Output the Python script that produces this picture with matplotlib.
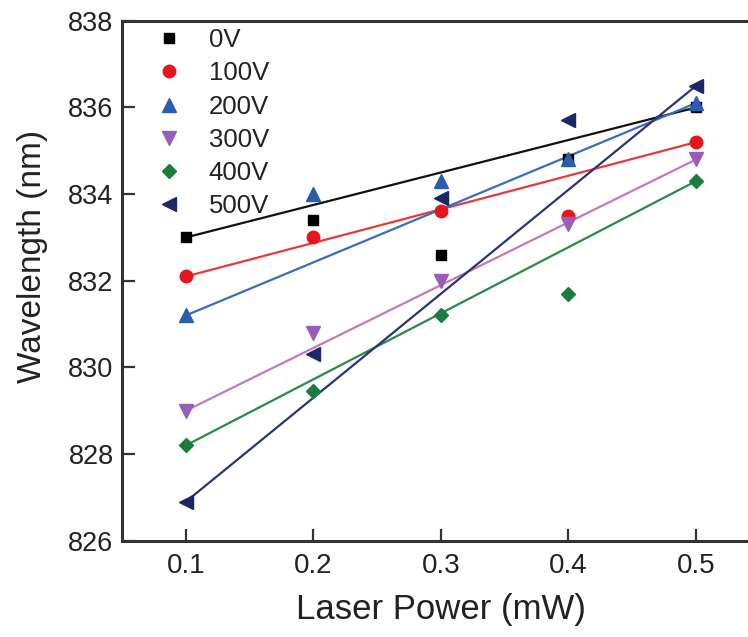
import matplotlib.pyplot as plt
import numpy as np

# data
power = np.array([0.1, 0.2, 0.3, 0.4, 0.5])
labels = ["0V", "100V", "200V", "300V", "400V", "500V"]
wl_0v = np.array([833.0, 833.4, 832.6, 834.8, 836.0])
wl_100v = np.array([832.1, 833.0, 833.6, 833.5, 835.2])
wl_200v = np.array([831.2, 834.0, 834.3, 834.8, 836.1])
wl_300v = np.array([829.0, 830.8, 832.0, 833.3, 834.8])
wl_400v = np.array([828.2, 829.45, 831.2, 831.7, 834.3])
wl_500v = np.array([826.9, 830.3, 833.9, 835.7, 836.5])
yticks = [826, 828, 830, 832, 834, 836, 838]
xticks = [0.1, 0.2, 0.3, 0.4, 0.5]

series = [wl_0v, wl_100v, wl_200v, wl_300v, wl_400v, wl_500v]
markers = ["s", "o", "^", "v", "D", "<"]
msizes = [7.5, 9, 9.5, 9.5, 7.5, 9.5]
mcolors = ["#000000", "#e8141c", "#2a5cb0", "#9a5cb8", "#1a7d3c", "#1c2766"]
lcolors = ["#111111", "#e83a3a", "#3a6cc0", "#c57ab8", "#2a8a4a", "#2a3575"]

font = ["Liberation Sans", "DejaVu Sans"]

fig = plt.figure(figsize=(7.48, 6.37), dpi=100)
ax = fig.add_axes([0.163, 0.151, 0.8527, 0.8163])

for y, lab, m, ms, mc, lc in zip(series, labels, markers, msizes, mcolors, lcolors):
    # straight line from first to last point
    ax.plot(power[[0, -1]], y[[0, -1]], color=lc, lw=1.6, zorder=2)
    ax.plot(power, y, ls="none", marker=m, ms=ms, color=mc, mec=mc, label=lab, zorder=3)

ax.set_xlim(0.05, 0.55)
ax.set_ylim(826, 838)
ax.set_xticks(xticks)
ax.set_yticks(yticks)
ax.set_xticklabels(["%.1f" % v for v in xticks], family=font, fontsize=20, color="#222222")
ax.set_yticklabels([str(v) for v in yticks], family=font, fontsize=19.5, color="#222222")
ax.tick_params(direction="in", length=9, width=1.6, color="#333333")
ax.tick_params(axis="x", pad=9)
ax.tick_params(axis="y", pad=6)
for s in ax.spines.values():
    s.set_linewidth(2.2)
    s.set_color("#333333")

ax.set_xlabel("Laser Power (mW)", family=font, fontsize=25, color="#222222")
ax.set_ylabel("Wavelength (nm)", family=font, fontsize=24, color="#222222")
ax.xaxis.set_label_coords(0.5, -0.1)
ax.yaxis.set_label_coords(-0.116, 0.546)

leg = ax.legend(loc="upper left", bbox_to_anchor=(143 / 748, 1 - 28 / 637),
                bbox_transform=fig.transFigure, frameon=False, borderpad=0,
                borderaxespad=0, handlelength=2.0, handletextpad=0.55,
                labelspacing=0.36, prop={"family": font, "size": 18.5})
for t in leg.get_texts():
    t.set_color("#222222")

fig.savefig("out.png", dpi=100)
